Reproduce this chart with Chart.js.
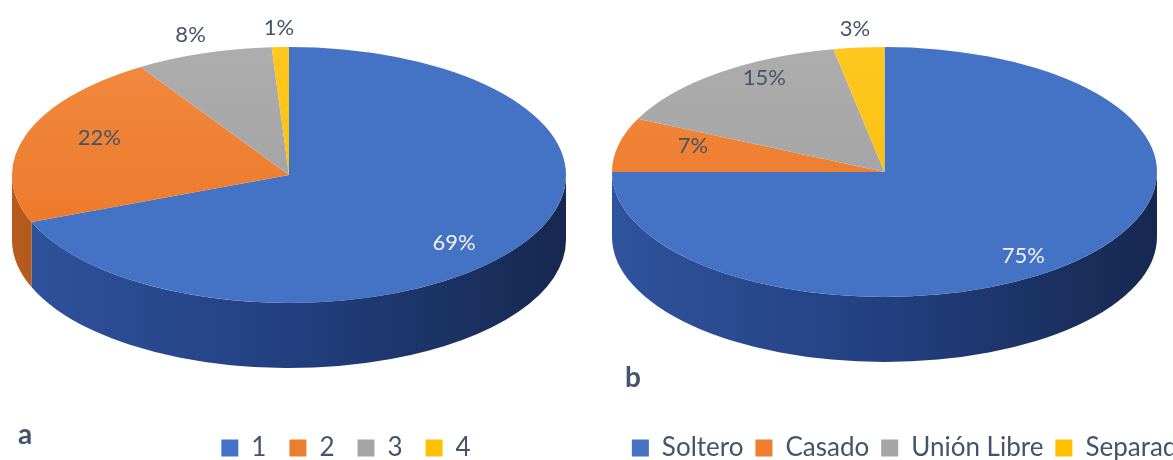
<!DOCTYPE html>
<html><head><meta charset="utf-8">
<script src="https://cdn.jsdelivr.net/npm/chart.js@4.4.1/dist/chart.umd.min.js"></script>
<style>
html,body{margin:0;padding:0;background:#fff;width:1173px;height:460px;overflow:hidden;position:relative;}
canvas{position:absolute;top:0;}
.tag{position:absolute;font:bold 28px Lato, sans-serif;color:#44546A;line-height:28px;}
</style></head><body>
<canvas id="pieA" width="692" height="471" style="left:0px"></canvas>
<canvas id="pieB" width="600" height="471" style="left:612px"></canvas>
<div class="tag" style="left:18px;top:419px">a</div>
<div class="tag" style="left:625px;top:362px">b</div>
<script>
// ---- data ----
const categoriesA = ['1', '2', '3', '4'];
const valuesA = [69, 22, 8, 1];
const categoriesB = ['Soltero', 'Casado', 'Unión Libre', 'Separado'];
const valuesB = [75, 7, 15, 3];

// ---- styles ----
const topColors = [['#4673C6', '#315DB9'], ['#F28A40', '#EA7323'], ['#ADADAD', '#9E9E9E'], ['#FFC820', '#F7BB00']];
const solidColors = ['#4472C4', '#ED7D31', '#A5A5A5', '#FFC000'];
const sideColors = [['#2F539E', '#233F80', '#16284F'], ['#B65B1D', '#9A4E19', '#6E3811'],
                    ['#8A8A8A', '#6E6E6E', '#4F4F4F'], ['#D9A300', '#B38600', '#806000']];
const textColor = '#44546A';

function topFill(c) {
  const i = c.dataIndex;
  const chart = c.chart;
  const arcs = chart.getDatasetMeta(0).data;
  if (!arcs.length || !arcs[0].outerRadius) return solidColors[i];
  const a = arcs[0];
  const g = chart.ctx.createLinearGradient(0, a.y - a.outerRadius, 0, a.y + a.outerRadius);
  g.addColorStop(0, topColors[i][0]);
  g.addColorStop(1, topColors[i][1]);
  return g;
}

const pie3d = {
  id: 'pie3d',
  beforeDatasetsDraw(chart, args, opts) {
    const arcs = chart.getDatasetMeta(0).data;
    const ctx = chart.ctx;
    ctx.save();
    chart.$p3 = true;
    if (!arcs.length) return;
    const a0 = arcs[0], ox = a0.x, oy = a0.y, R = a0.outerRadius;
    const g = opts.geom;
    const sx = g.rx / R, sy = g.ry / R;
    ctx.transform(sx, 0, 0, sy, (g.cx - opts.offsetX) - ox * sx, g.cy - oy * sy);
    const d = g.depth / sy;
    arcs.forEach((arc, i) => {
      const lo = Math.max(arc.startAngle, 0), hi = Math.min(arc.endAngle, Math.PI);
      if (hi <= lo) return;
      const grad = ctx.createLinearGradient(ox - R, 0, ox + R, 0);
      const sc = sideColors[i];
      grad.addColorStop(0, sc[0]); grad.addColorStop(0.5, sc[1]); grad.addColorStop(1, sc[2]);
      ctx.beginPath();
      ctx.arc(ox, oy, R, lo, hi);
      ctx.arc(ox, oy + d, R, hi, lo, true);
      ctx.closePath();
      ctx.fillStyle = grad;
      ctx.fill();
    });
  },
  afterDatasetsDraw(chart) {
    if (chart.$p3) { chart.ctx.restore(); chart.$p3 = false; }
  },
  afterDraw(chart, args, opts) {
    const arcs = chart.getDatasetMeta(0).data;
    const vals = chart.data.datasets[0].data;
    const total = vals.reduce((s, v) => s + v, 0);
    const g = opts.geom, cx = g.cx - opts.offsetX;
    const ctx = chart.ctx;
    ctx.save();
    ctx.font = '22px Lato, sans-serif';
    ctx.textAlign = 'center';
    ctx.textBaseline = 'middle';
    arcs.forEach((arc, i) => {
      const mid = (arc.startAngle + arc.endAngle) / 2;
      const c = Math.cos(mid), s = Math.sin(mid);
      const pct = Math.round(vals[i] / total * 100);
      let x, y, col;
      if (pct < 10 && s < -0.9) {
        x = cx + 1.15 * g.rx * c; y = g.cy + 1.15 * g.ry * s; col = textColor;
      } else {
        x = cx + 0.72 * g.rx * c; y = g.cy + 0.95 * g.ry * s;
        col = i === 0 ? '#F2F2F2' : textColor;
      }
      ctx.fillStyle = col;
      ctx.fillText(pct + '%', x, y);
    });
    ctx.restore();
  }
};

function legendLabels(chart) {
  const items = Chart.overrides.pie.plugins.legend.labels.generateLabels(chart);
  return items.map((it, i) => Object.assign(it, {fillStyle: solidColors[i], strokeStyle: solidColors[i], lineWidth: 0}));
}

function makePie(id, cats, vals, geom, offsetX, legendPad) {
  return new Chart(document.getElementById(id), {
    type: 'pie',
    data: {
      labels: cats,
      datasets: [{
        data: vals,
        backgroundColor: topFill,
        borderWidth: 0,
        clip: false
      }]
    },
    options: {
      responsive: false,
      animation: false,
      events: [],
      layout: {padding: 0},
      plugins: {
        tooltip: {enabled: false},
        legend: {
          position: 'bottom',
          labels: {
            boxWidth: 17, boxHeight: 17, padding: legendPad, color: textColor,
            font: {family: 'Lato, sans-serif', size: 26},
            generateLabels: legendLabels
          }
        },
        pie3d: {geom: geom, offsetX: offsetX}
      }
    },
    plugins: [pie3d]
  });
}

makePie('pieA', categoriesA, valuesA, {cx: 289, cy: 175, rx: 277, ry: 128, depth: 65}, 0, 23);
makePie('pieB', categoriesB, valuesB, {cx: 884.5, cy: 172, rx: 272.5, ry: 125, depth: 65}, 612, 12);
</script>
</body></html>
